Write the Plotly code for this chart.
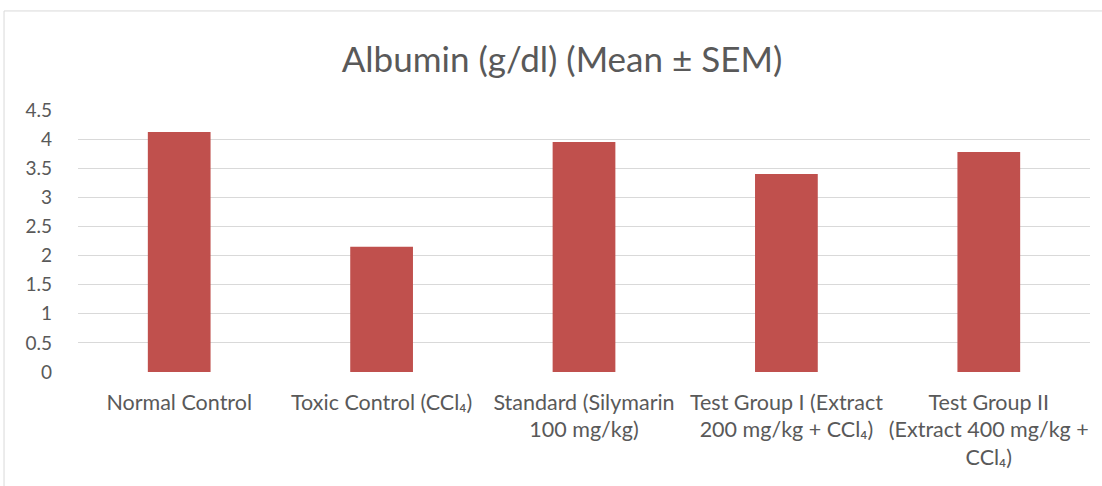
import plotly.graph_objects as go

categories = [
    "Normal Control",
    "Toxic Control (CCl₄)",
    "Standard (Silymarin<br>100 mg/kg)",
    "Test Group I (Extract<br>200 mg/kg + CCl₄)",
    "Test Group II<br>(Extract 400 mg/kg +<br>CCl₄)",
]
albumin = [4.12, 2.15, 3.95, 3.40, 3.78]
y_ticks = [0, 0.5, 1, 1.5, 2, 2.5, 3, 3.5, 4, 4.5]
y_labels = ["0", "0.5", "1", "1.5", "2", "2.5", "3", "3.5", "4", "4.5"]

FONT = "Lato"
GREY = "#595959"

fig = go.Figure()
fig.add_trace(go.Bar(
    x=categories,
    y=albumin,
    marker=dict(color="#C0504D", line=dict(width=0)),
))

fig.update_layout(
    width=1102,
    height=486,
    margin=dict(l=78, r=12, t=110, b=114),
    paper_bgcolor="white",
    plot_bgcolor="white",
    bargap=0.69,
    showlegend=False,
    font=dict(family=FONT, color=GREY, size=19),
    title=dict(
        text="Albumin (g/dl) (Mean ± SEM)",
        xref="container", x=562 / 1102, xanchor="center",
        y=1 - 60 / 486, yanchor="middle",
        font=dict(family=FONT, size=35, color=GREY),
    ),
    xaxis=dict(
        showgrid=False, showline=False,
        ticks="", tickfont=dict(size=21.5, color=GREY),
        ticklabelstandoff=15,
    ),
    yaxis=dict(
        range=[0, 4.5], tickvals=y_ticks, ticktext=y_labels,
        showgrid=True, gridcolor="#d9d9d9", gridwidth=1,
        zeroline=False, showline=False, ticks="",
        tickfont=dict(size=19, color=GREY), ticklabelstandoff=25,
    ),
    shapes=[dict(
        type="rect", xref="paper", yref="paper",
        x0=-0.0731, x1=1.03, y0=-0.6, y1=1.378,
        line=dict(color="#d9d9d9", width=1), fillcolor="rgba(0,0,0,0)",
        layer="below",
    )],
)

fig.write_html("out.html", config={"displayModeBar": False},
               post_script="document.body.style.margin='0';")
